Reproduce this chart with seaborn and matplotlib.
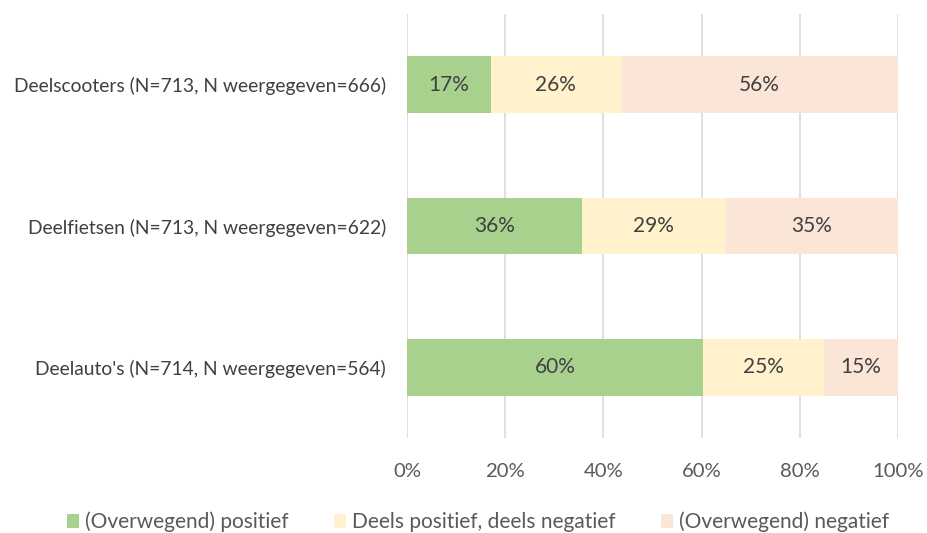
import matplotlib
matplotlib.use("Agg")
import matplotlib.pyplot as plt
from matplotlib.patches import Patch
import seaborn as sns
import pandas as pd
import numpy as np

categories = ["Deelscooters (N=713, N weergegeven=666)",
              "Deelfietsen (N=713, N weergegeven=622)",
              "Deelauto's (N=714, N weergegeven=564)"]
series_names = ["(Overwegend) positief", "Deels positief, deels negatief", "(Overwegend) negatief"]
positief = [17.1, 35.6, 60.3]
deels = [26.4, 29.1, 24.6]
negatief = [56.4, 35.3, 15.1]
x_ticks = [0, 20, 40, 60, 80, 100]

colors = ["#A9D18E", "#FFF2CC", "#FBE5D6"]

sns.set_theme(style="white")
plt.rcParams["font.family"] = ["Lato", "DejaVu Sans"]

fig = plt.figure(figsize=(9.28, 5.33), dpi=100)
W, H = 928, 533
ax = fig.add_axes([407 / W, 1 - 438 / H, (898 - 407) / W, (438 - 14) / H])

series = [positief, deels, negatief]
cum = np.cumsum(np.array(series), axis=0)

# draw largest cumulative first so that stacked segments appear
for k in range(len(series) - 1, -1, -1):
    df = pd.DataFrame({"cat": categories, "val": cum[k]})
    sns.barplot(data=df, x="val", y="cat", orient="h", color=colors[k],
                width=0.4, saturation=1, ax=ax, zorder=2, edgecolor="none",
                linewidth=0)

for k in range(len(series)):
    for i, v in enumerate(series[k]):
        start = cum[k][i] - v
        ax.text(start + v / 2, i, f"{v:.0f}%", ha="center", va="center",
                fontsize=15, color="#404040", zorder=3)

ax.set_xlim(0, 100)
ax.set_ylim(2.5, -0.5)
ax.set_xticks(x_ticks)
ax.set_xticklabels([f"{t}%" for t in x_ticks])
ax.set_xlabel("")
ax.set_ylabel("")
ax.grid(axis="x", color="#D9D9D9", linewidth=1.2, zorder=0)
ax.set_axisbelow(True)
for s in ax.spines.values():
    s.set_visible(False)
ax.tick_params(axis="x", length=0, pad=18, labelsize=14.6, labelcolor="#595959")
ax.tick_params(axis="y", length=0, pad=15, labelsize=13.9, labelcolor="#404040")

handles = [Patch(facecolor=c, edgecolor="none") for c in colors]
fig.legend(handles, series_names, loc="center", ncol=3,
           bbox_to_anchor=(478 / W, 1 - 522 / H), frameon=False,
           fontsize=15, labelcolor="#595959", handlelength=0.6,
           handleheight=0.6, handletextpad=0.3, columnspacing=2.15)

fig.savefig("out.png", dpi=100)
